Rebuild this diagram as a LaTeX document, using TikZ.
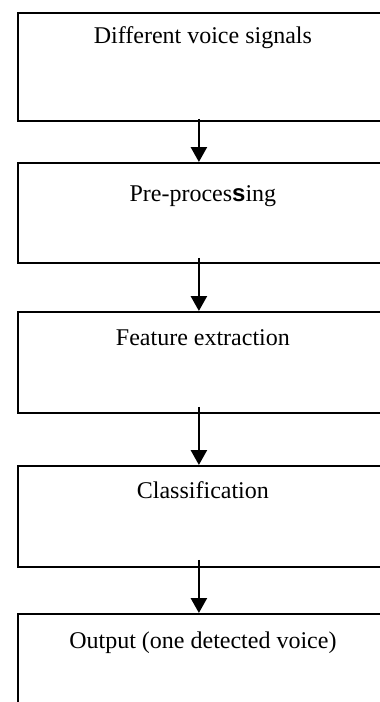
\documentclass[tikz,border=0pt]{standalone}
\usepackage{fontspec}
\setmainfont{Liberation Serif}
\newfontfamily\sansletter{Liberation Sans}
\usetikzlibrary{arrows.meta}

\begin{document}
\begin{tikzpicture}[x=0.5pt,y=-0.5pt,
  stage/.style={draw, line width=0.9pt, inner sep=0pt, anchor=north west,
    minimum width=185pt, font=\fontsize{12}{14}\selectfont},
  flow/.style={-{Triangle[length=7.5pt,width=8pt]}, line width=1.3pt}]
  \useasboundingbox (0,0) rectangle (380,702);
  \clip (0,0) rectangle (380,702);
  \node[stage, text height=15.5pt, text depth=38.5pt] (signals) at (17,12) {Different voice signals};
  \node[stage, text height=19.5pt, text depth=30.5pt] (preproc) at (17,162) {Pre-proces{\sansletter\bfseries s}ing};
  \node[stage, text height=17pt, text depth=33.5pt] (feature) at (17,311) {Feature extraction};
  \node[stage, text height=16.5pt, text depth=34pt] (classif) at (17,465) {Classification};
  \node[stage, text height=17.5pt, text depth=32.5pt] (output) at (17,613) {Output (one detected voice)};
  \draw[flow] ([xshift=-2pt,yshift=1.5pt]signals.south) -- ([xshift=-2pt]preproc.north);
  \draw[flow] ([xshift=-2pt,yshift=3pt]preproc.south) -- ([xshift=-2pt]feature.north);
  \draw[flow] ([xshift=-2pt,yshift=3.5pt]feature.south) -- ([xshift=-2pt]classif.north);
  \draw[flow] ([xshift=-2pt,yshift=4pt]classif.south) -- ([xshift=-2pt]output.north);
\end{tikzpicture}
\end{document}
